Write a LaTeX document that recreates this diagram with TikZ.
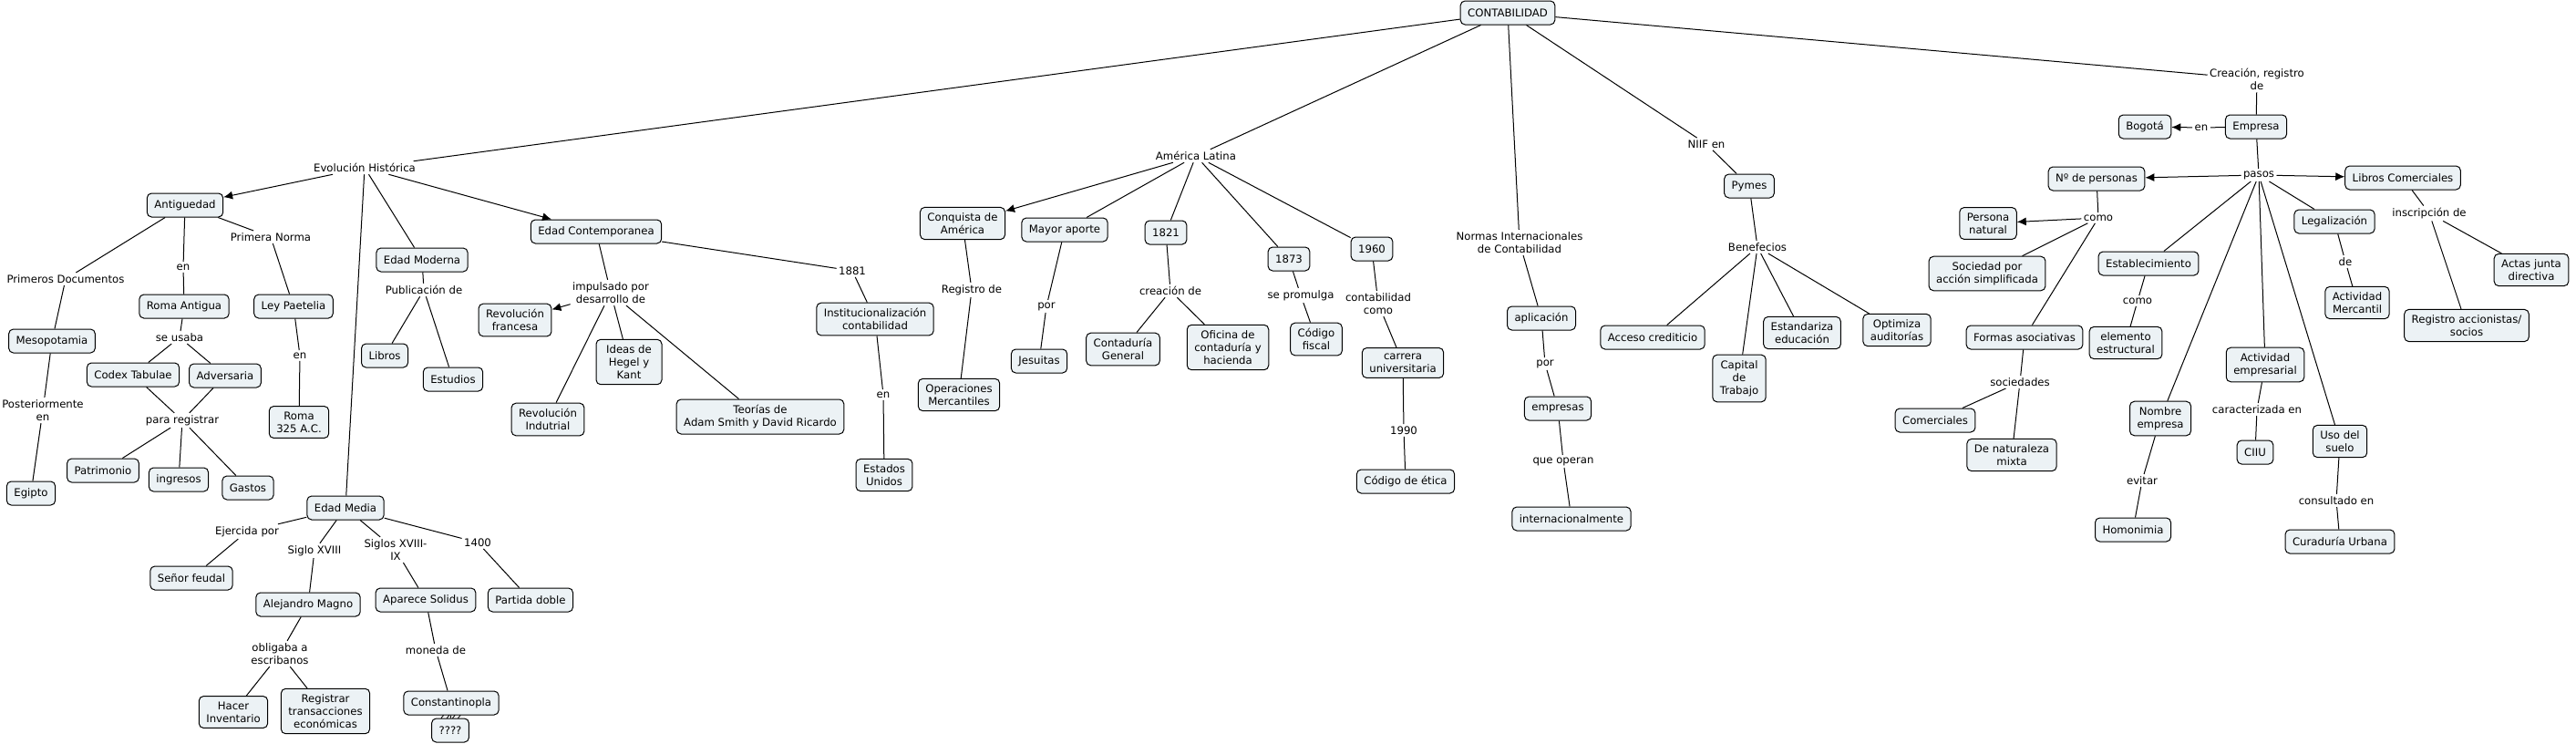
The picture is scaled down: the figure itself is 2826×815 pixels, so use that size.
\documentclass[tikz,border=0pt]{standalone}
\usepackage{fontspec}
\setmainfont{DejaVu Sans}
\usetikzlibrary{arrows.meta}

\definecolor{conceptfill}{RGB}{236,242,245}

\begin{document}
\begin{tikzpicture}[x=0.5pt, y=-0.5pt, line width=0.5pt,
    concept/.style={draw, fill=conceptfill, rounded corners=2.5pt, align=center,
        font=\fontsize{5.85}{7.1}\selectfont, inner xsep=4pt, inner ysep=3pt, minimum height=13pt},
    link/.style={align=center, inner sep=1pt, font=\fontsize{5.85}{7.1}\selectfont},
    arr/.style={-{Latex[length=5pt, width=4.5pt]}}]

    % Frame (reference size in pixels)
    \useasboundingbox (0,0) rectangle (2826,815);

    % Root
    \node[concept] (conta) at (1654,14) {CONTABILIDAD};

    % Evolucion historica: Antiguedad
    \node[link] (evol) at (400,184) {Evolución Histórica};
    \node[concept] (antig) at (203,225) {Antiguedad};
    \node[link] (primdoc) at (72,306) {Primeros Documentos};
    \node[concept] (meso) at (57,374) {Mesopotamia};
    \node[link] (poster) at (47,450) {Posteriormente\\en};
    \node[concept] (egipto) at (34,541) {Egipto};
    \node[link] (en1) at (201,293) {en};
    \node[concept] (roma) at (202,336) {Roma Antigua};
    \node[link] (usaba) at (197,370) {se usaba};
    \node[concept] (codex) at (146,411) {Codex Tabulae};
    \node[concept] (advers) at (247,412) {Adversaria};
    \node[link] (parareg) at (200,461) {para registrar};
    \node[concept] (patrim) at (113,516) {Patrimonio};
    \node[concept] (ingr) at (196,526) {ingresos};
    \node[concept] (gastos) at (272,535) {Gastos};
    \node[link] (primnorma) at (297,260) {Primera Norma};
    \node[concept] (ley) at (322,336) {Ley Paetelia};
    \node[link] (en2) at (329,390) {en};
    \node[concept] (roma325) at (328,463) {Roma\\325 A.C.};

    % Edad Moderna
    \node[concept] (moderna) at (463,285) {Edad Moderna};
    \node[link] (public) at (465,318) {Publicación de};
    \node[concept] (libros) at (422,390) {Libros};
    \node[concept] (estud) at (497,416) {Estudios};

    % Edad Contemporanea
    \node[concept] (contemp) at (654,254) {Edad Contemporanea};
    \node[link] (impuls) at (670,321) {impulsado por\\desarrollo de};
    \node[concept] (revfr) at (565,351) {Revolución\\francesa};
    \node[concept] (revind) at (601,460) {Revolución\\Indutrial};
    \node[concept, minimum width=36pt] (hegel) at (690,397) {Ideas de\\Hegel y\\Kant};
    \node[concept] (teorias) at (834,457) {Teorías de\\Adam Smith y David Ricardo};
    \node[link] (y1881) at (935,297) {1881};
    \node[concept] (instit) at (960,350) {Institucionalización\\contabilidad};
    \node[link] (en3) at (969,433) {en};
    \node[concept] (eeuu) at (970,521) {Estados\\Unidos};

    % Edad Media
    \node[concept] (media) at (379,557) {Edad Media};
    \node[link] (ejerc) at (271,583) {Ejercida por};
    \node[concept] (senor) at (210,634) {Señor feudal};
    \node[link] (s18) at (345,604) {Siglo XVIII};
    \node[concept] (alej) at (338,663) {Alejandro Magno};
    \node[link] (oblig) at (307,717) {obligaba a\\escribanos};
    \node[concept] (hacer) at (256,781) {Hacer\\Inventario};
    \node[concept] (regtrans) at (357,780) {Registrar\\transacciones\\económicas};
    \node[link] (s189) at (434,603) {Siglos XVIII-\\IX};
    \node[concept] (solid) at (467,658) {Aparece Solidus};
    \node[link] (moneda) at (478,713) {moneda de};
    \node[link] (qlink) at (494,787) {????};
    \node[concept] (constant) at (495,771) {Constantinopla};
    \node[concept] (qq) at (494,801) {????};
    \node[link] (y1400) at (524,595) {1400};
    \node[concept] (partida) at (582,658) {Partida doble};

    % America Latina
    \node[link] (amer) at (1312,171) {América Latina};
    \node[concept] (conq) at (1056,245) {Conquista de\\América};
    \node[link] (regde) at (1066,318) {Registro de};
    \node[concept] (operac) at (1052,433) {Operaciones\\Mercantiles};
    \node[concept] (mayor) at (1168,252) {Mayor aporte};
    \node[link] (por1) at (1148,336) {por};
    \node[concept] (jesuit) at (1140,396) {Jesuitas};
    \node[concept] (y1821) at (1279,255) {1821};
    \node[link] (creac) at (1284,319) {creación de};
    \node[concept] (contad) at (1232,383) {Contaduría\\General};
    \node[concept] (oficina) at (1347,381) {Oficina de\\contaduría y\\hacienda};
    \node[concept] (y1873) at (1414,284) {1873};
    \node[link] (promul) at (1427,324) {se promulga};
    \node[concept] (codfis) at (1444,372) {Código\\fiscal};
    \node[concept] (y1960) at (1505,273) {1960};
    \node[link] (contcomo) at (1512,333) {contabilidad\\como};
    \node[concept] (carrera) at (1539,398) {carrera\\universitaria};
    \node[link] (y1990) at (1540,472) {1990};
    \node[concept] (etica) at (1542,528) {Código de ética};

    % Normas Internacionales
    \node[link] (nic) at (1667,266) {Normas Internacionales\\de Contabilidad};
    \node[concept] (aplic) at (1691,349) {aplicación};
    \node[link] (por2) at (1695,399) {por};
    \node[concept] (empresas) at (1709,448) {empresas};
    \node[link] (operan) at (1715,506) {que operan};
    \node[concept] (internac) at (1724,569) {internacionalmente};

    % NIIF
    \node[link] (niif) at (1872,158) {NIIF en};
    \node[concept] (pymes) at (1919,204) {Pymes};
    \node[link] (benef) at (1928,271) {Benefecios};
    \node[concept] (acceso) at (1813,370) {Acceso crediticio};
    \node[concept] (capital) at (1908,415) {Capital\\de\\Trabajo};
    \node[concept] (estand) at (1977,365) {Estandariza\\educación};
    \node[concept] (optim) at (2081,362) {Optimiza\\auditorías};

    % Empresa
    \node[link] (creareg) at (2476,87) {Creación, registro\\de};
    \node[concept] (empresa) at (2475,139) {Empresa};
    \node[link] (en4) at (2415,140) {en};
    \node[concept] (bogota) at (2353,139) {Bogotá};
    \node[link] (pasos) at (2478,192) {pasos};
    \node[concept] (npers) at (2300,196) {Nº de personas};
    \node[link] (como1) at (2302,239) {como};
    \node[concept] (persnat) at (2181,245) {Persona\\natural};
    \node[concept] (sas) at (2180,300) {Sociedad por\\acción simplificada};
    \node[concept] (formas) at (2221,370) {Formas asociativas};
    \node[link] (socied) at (2216,419) {sociedades};
    \node[concept] (comerc) at (2123,461) {Comerciales};
    \node[concept] (mixta) at (2207,499) {De naturaleza\\mixta};
    \node[concept] (estab) at (2357,289) {Establecimiento};
    \node[link] (como2) at (2345,330) {como};
    \node[concept] (elem) at (2332,376) {elemento\\estructural};
    \node[concept] (nombre) at (2370,459) {Nombre\\empresa};
    \node[link] (evitar) at (2350,527) {evitar};
    \node[concept] (homon) at (2340,581) {Homonimia};
    \node[concept] (activ) at (2485,400) {Actividad\\empresarial};
    \node[link] (caract) at (2476,449) {caracterizada en};
    \node[concept] (ciiu) at (2474,496) {CIIU};
    \node[concept] (suelo) at (2567,484) {Uso del\\suelo};
    \node[link] (consul) at (2563,549) {consultado en};
    \node[concept] (curad) at (2567,594) {Curaduría Urbana};
    \node[concept] (legal) at (2561,243) {Legalización};
    \node[link] (de1) at (2573,287) {de};
    \node[concept] (activm) at (2586,332) {Actividad\\Mercantil};
    \node[concept] (libcom) at (2636,195) {Libros Comerciales};
    \node[link] (inscr) at (2665,234) {inscripción de};
    \node[concept] (regacc) at (2706,357) {Registro accionistas/\\socios};
    \node[concept] (actas) at (2777,296) {Actas junta\\directiva};

    % Connectors from the root
    \draw (conta) -- (evol);
    \draw (conta) -- (amer);
    \draw (conta) -- (nic);
    \draw (conta) -- (niif);
    \draw (conta) -- (creareg);

    % Evolucion historica
    \draw[arr] (evol) -- (antig);
    \draw[arr] (evol) -- (contemp);
    \draw (evol) -- (moderna);
    \draw (evol) -- (media);
    \draw (antig) -- (primdoc);
    \draw (primdoc) -- (meso);
    \draw (meso) -- (poster);
    \draw (poster) -- (egipto);
    \draw (antig) -- (en1);
    \draw (en1) -- (roma);
    \draw (roma) -- (usaba);
    \draw (usaba) -- (codex);
    \draw (usaba) -- (advers);
    \draw (codex) -- (parareg);
    \draw (advers) -- (parareg);
    \draw (parareg) -- (patrim);
    \draw (parareg) -- (ingr);
    \draw (parareg) -- (gastos);
    \draw (antig) -- (primnorma);
    \draw (primnorma) -- (ley);
    \draw (ley) -- (en2);
    \draw (en2) -- (roma325);
    \draw (moderna) -- (public);
    \draw (public) -- (libros);
    \draw (public) -- (estud);
    \draw (contemp) -- (impuls);
    \draw[arr] (impuls) -- (revfr);
    \draw (impuls) -- (revind);
    \draw (impuls) -- (hegel);
    \draw (impuls) -- (teorias);
    \draw (contemp) -- (y1881);
    \draw (y1881) -- (instit);
    \draw (instit) -- (en3);
    \draw (en3) -- (eeuu);
    \draw (media) -- (ejerc);
    \draw (ejerc) -- (senor);
    \draw (media) -- (s18);
    \draw (s18) -- (alej);
    \draw (alej) -- (oblig);
    \draw (oblig) -- (hacer);
    \draw (oblig) -- (regtrans);
    \draw (media) -- (s189);
    \draw (s189) -- (solid);
    \draw (solid) -- (moneda);
    \draw (moneda) -- (constant);
    \draw (constant) -- (qq);
    \draw (media) -- (y1400);
    \draw (y1400) -- (partida);

    % America Latina
    \draw[arr] (amer) -- (conq);
    \draw (amer) -- (mayor);
    \draw (amer) -- (y1821);
    \draw (amer) -- (y1873);
    \draw (amer) -- (y1960);
    \draw (conq) -- (regde);
    \draw (regde) -- (operac);
    \draw (mayor) -- (por1);
    \draw (por1) -- (jesuit);
    \draw (y1821) -- (creac);
    \draw (creac) -- (contad);
    \draw (creac) -- (oficina);
    \draw (y1873) -- (promul);
    \draw (promul) -- (codfis);
    \draw (y1960) -- (contcomo);
    \draw (contcomo) -- (carrera);
    \draw (carrera) -- (y1990);
    \draw (y1990) -- (etica);

    % Normas internacionales and NIIF
    \draw (nic) -- (aplic);
    \draw (aplic) -- (por2);
    \draw (por2) -- (empresas);
    \draw (empresas) -- (operan);
    \draw (operan) -- (internac);
    \draw (niif) -- (pymes);
    \draw (pymes) -- (benef);
    \draw (benef) -- (acceso);
    \draw (benef) -- (capital);
    \draw (benef) -- (estand);
    \draw (benef) -- (optim);

    % Empresa
    \draw (creareg) -- (empresa);
    \draw (empresa) -- (en4);
    \draw[arr] (en4) -- (bogota);
    \draw (empresa) -- (pasos);
    \draw[arr] (pasos) -- (npers);
    \draw[arr] (pasos) -- (libcom);
    \draw (pasos) -- (legal);
    \draw (pasos) -- (estab);
    \draw (pasos) -- (nombre);
    \draw (pasos) -- (activ);
    \draw (pasos) -- (suelo);
    \draw (npers) -- (como1);
    \draw[arr] (como1) -- (persnat);
    \draw (como1) -- (sas);
    \draw (como1) -- (formas);
    \draw (formas) -- (socied);
    \draw (socied) -- (comerc);
    \draw (socied) -- (mixta);
    \draw (estab) -- (como2);
    \draw (como2) -- (elem);
    \draw (nombre) -- (evitar);
    \draw (evitar) -- (homon);
    \draw (activ) -- (caract);
    \draw (caract) -- (ciiu);
    \draw (suelo) -- (consul);
    \draw (consul) -- (curad);
    \draw (legal) -- (de1);
    \draw (de1) -- (activm);
    \draw (libcom) -- (inscr);
    \draw (inscr) -- (regacc);
    \draw (inscr) -- (actas);

\end{tikzpicture}
\end{document}
